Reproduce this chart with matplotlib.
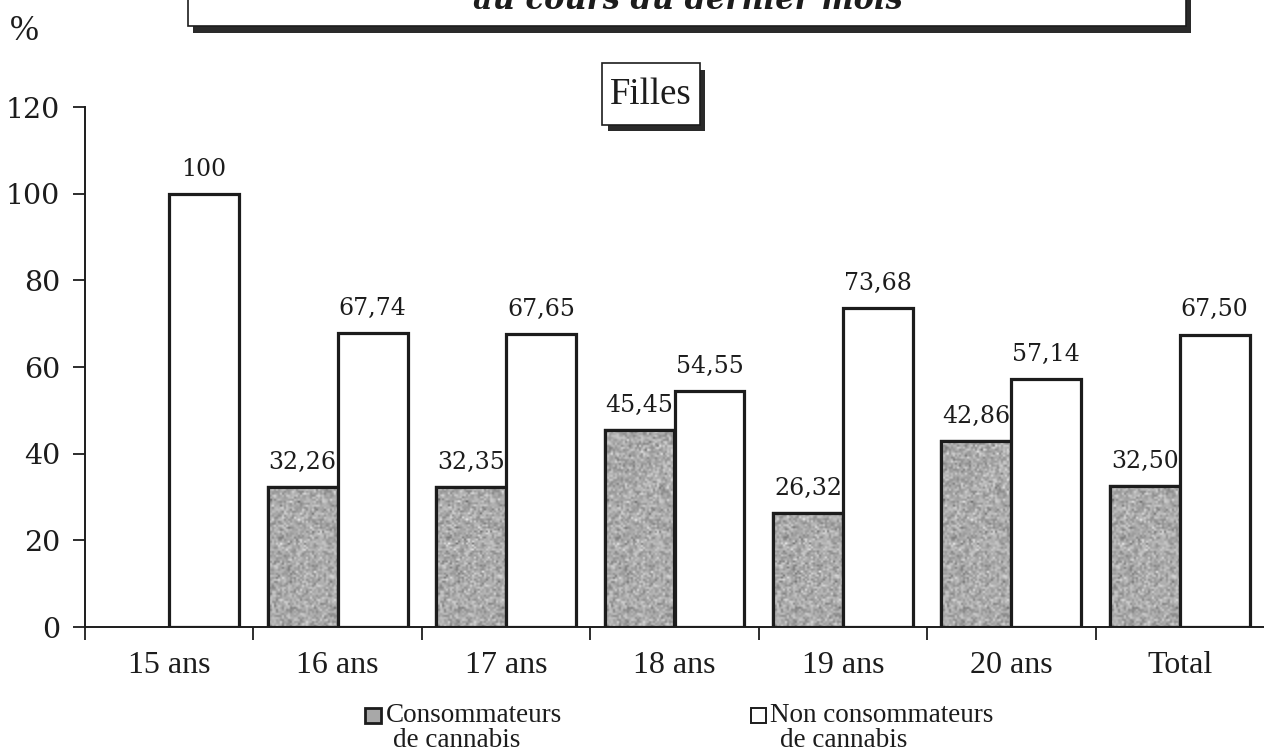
import numpy as np
import matplotlib
matplotlib.use("Agg")
import matplotlib.pyplot as plt
from matplotlib.patches import Rectangle

# --- data -------------------------------------------------------------
categories = ["15 ans", "16 ans", "17 ans", "18 ans", "19 ans", "20 ans", "Total"]
consommateurs = [0, 32.26, 32.35, 45.45, 26.32, 42.86, 32.50]
non_consommateurs = [100, 67.74, 67.65, 54.55, 73.68, 57.14, 67.50]
yticks = [0, 20, 40, 60, 80, 100, 120]
title_text = "au cours du dernier mois"
panel_text = "Filles"

INK = "#1c1c1c"
GRAY = "#a8a8a8"

def fmt(v):
    if float(v).is_integer():
        return str(int(v))
    return f"{v:.2f}".replace(".", ",")

W, H = 1264, 753
fig = plt.figure(figsize=(W / 100, H / 100), dpi=100)
fig.patch.set_facecolor("white")

# main axes placed in pixel terms
left_px, right_px, top_px, bottom_px = 85, 1264, 107, 627
ax = fig.add_axes([left_px / W, (H - bottom_px) / H,
                   (right_px - left_px) / W, (bottom_px - top_px) / H])

x = np.arange(len(categories))
w = 0.415

# speckled grey fill texture for the consumer bars (square ~2px grains)
rng = np.random.default_rng(7)
tex_top = 60
tex = np.clip(0.67 + rng.normal(0, 0.085, (130, 35)), 0, 1)

for xi, v in zip(x, consommateurs):
    if v <= 0:
        continue
    bar = ax.bar(xi - w / 2, v, width=w, color=GRAY, edgecolor=INK,
                 linewidth=2.3, zorder=3)[0]
    im = ax.imshow(tex, cmap="gray", vmin=0, vmax=1, aspect="auto",
                   extent=[xi - w, xi, 0, tex_top], zorder=3.5,
                   interpolation="bilinear")
    im.set_clip_path(bar)
    ax.bar(xi - w / 2, v, width=w, color="none", edgecolor=INK,
           linewidth=2.3, zorder=4)
    ax.annotate(fmt(v), (xi - w / 2, v), xytext=(0, 13),
                textcoords="offset points", ha="center", va="baseline",
                fontsize=17, family="DejaVu Serif", color=INK)

for xi, v in zip(x, non_consommateurs):
    ax.bar(xi + w / 2, v, width=w, color="white", edgecolor=INK,
           linewidth=2.3, zorder=4)
    ax.annotate(fmt(v), (xi + w / 2, v), xytext=(0, 13),
                textcoords="offset points", ha="center", va="baseline",
                fontsize=17, family="DejaVu Serif", color=INK)

ax.set_xlim(-0.5, len(categories) - 0.5)
ax.set_ylim(0, 120)
ax.set_yticks(yticks)
ax.set_yticklabels([str(t) for t in yticks], family="DejaVu Serif",
                   fontsize=20.5, color=INK)
ax.tick_params(axis="y", length=9, width=1.3, color=INK, pad=9)

ax.set_xticks(x)
ax.set_xticklabels(categories, family="Liberation Serif", fontsize=23,
                   color=INK)
ax.tick_params(axis="x", which="major", length=0, pad=17)
ax.set_xticks(np.arange(-0.5, len(categories) - 1, 1.0), minor=True)
ax.tick_params(axis="x", which="minor", length=9, width=1.3, color=INK,
               direction="out")

for s in ("top", "right"):
    ax.spines[s].set_visible(False)
for s in ("left", "bottom"):
    ax.spines[s].set_color(INK)
    ax.spines[s].set_linewidth(1.4)
ax.set_facecolor("none")

# overlay in pixel coordinates for boxes, legend and headings
ov = fig.add_axes([0, 0, 1, 1], zorder=10)
ov.set_xlim(0, W)
ov.set_ylim(H, 0)
ov.axis("off")
ov.patch.set_alpha(0)

# header box (running off the top edge) with its drop shadow
ov.add_patch(Rectangle((193, -40), 998, 73, facecolor="#2a2a2a",
                       edgecolor="none", zorder=1))
ov.add_patch(Rectangle((188, -45), 998, 71, facecolor="white",
                       edgecolor=INK, linewidth=1.2, zorder=2))
ov.text(688, 9, title_text, ha="center", va="baseline", fontsize=22,
        family="DejaVu Serif", style="italic", weight="bold", color=INK,
        zorder=3)

ov.text(10, 40, "%", ha="left", va="baseline", fontsize=25,
        family="Liberation Serif", color=INK)

# "Filles" panel label with drop shadow
ov.add_patch(Rectangle((608, 70), 97, 61, facecolor="#2a2a2a",
                       edgecolor="none", zorder=1))
ov.add_patch(Rectangle((602, 63), 98, 62, facecolor="white",
                       edgecolor=INK, linewidth=1.2, zorder=2))
ov.text(651, 95, panel_text, ha="center", va="center", fontsize=26.5,
        family="Liberation Serif", color=INK, zorder=3)

# legend
ov.add_patch(Rectangle((365, 708), 16, 15, facecolor=GRAY,
                       edgecolor=INK, linewidth=2.0))
ov.text(386, 722, "Consommateurs", ha="left", va="baseline", fontsize=19.5,
        family="Liberation Serif", color=INK)
ov.text(393, 747, "de cannabis", ha="left", va="baseline", fontsize=19.5,
        family="Liberation Serif", color=INK)

ov.add_patch(Rectangle((751, 708), 15, 15, facecolor="white",
                       edgecolor=INK, linewidth=1.4))
ov.text(770, 722, "Non consommateurs", ha="left", va="baseline",
        fontsize=19.5, family="Liberation Serif", color=INK)
ov.text(780, 747, "de cannabis", ha="left", va="baseline", fontsize=19.5,
        family="Liberation Serif", color=INK)

fig.savefig("out.png", dpi=100, facecolor="white")
